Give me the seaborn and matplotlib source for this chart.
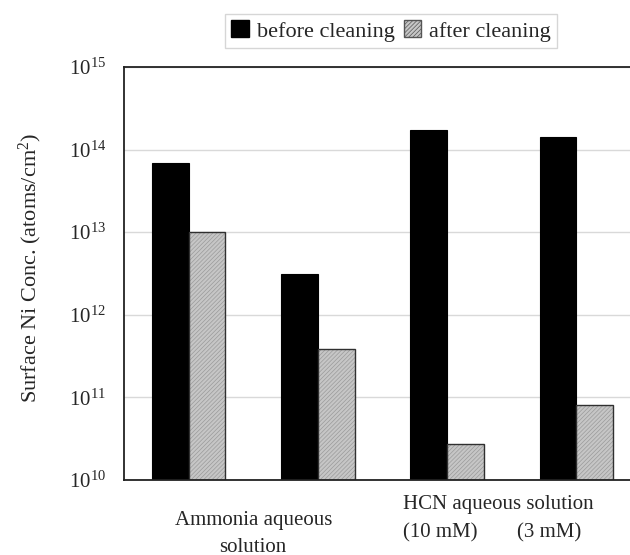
import matplotlib
matplotlib.use("Agg")
import matplotlib.pyplot as plt
import seaborn as sns
import pandas as pd
from matplotlib.patches import Patch, Rectangle
from matplotlib.ticker import FixedLocator, NullFormatter

sns.set_style("white")
plt.rcParams['font.family'] = ['Liberation Serif', 'DejaVu Serif']
plt.rcParams['mathtext.fontset'] = 'custom'
plt.rcParams['mathtext.rm'] = 'Liberation Serif'
plt.rcParams['mathtext.it'] = 'Liberation Serif:italic'
plt.rcParams['hatch.linewidth'] = 0.5

# Data
groups = ["NH3 A", "NH3 B", "HCN 10 mM", "HCN 3 mM"]
before_cleaning = [6.9e13, 3.1e12, 1.75e14, 1.42e14]
after_cleaning = [1.0e13, 3.9e11, 2.7e10, 8.0e10]
series = ["before cleaning", "after cleaning"]
ytick_values = [1e10, 1e11, 1e12, 1e13, 1e14, 1e15]

df = pd.DataFrame({
    "group": groups * 2,
    "state": [series[0]] * 4 + [series[1]] * 4,
    "value": before_cleaning + after_cleaning,
})

GRAY = '#c6c6c6'
HATCH_C = '#9a9a9a'
EDGE = '#303030'

W, H = 630, 555
fig = plt.figure(figsize=(W / 100, H / 100), dpi=100)
ax = fig.add_axes([124 / W, 1 - 480 / H, (641 - 124) / W, (480 - 67) / H])
ax.set_yscale('log')

sns.barplot(data=df, x="group", y="value", hue="state", order=groups,
            hue_order=series, palette={series[0]: "black", series[1]: GRAY},
            width=0.57, gap=0, ax=ax, legend=False, saturation=1,
            edgecolor="black", linewidth=0.8)

for bar in list(ax.containers[1]):
    bar.set_hatch('////////')
    bar.set_edgecolor(HATCH_C)
    bar.set_linewidth(0)
    # dark outline drawn on top of the hatched patch, using the patch's own geometry
    outline = Rectangle(bar.get_xy(), bar.get_width(), bar.get_height(),
                        fill=False, edgecolor=EDGE, linewidth=1.0, zorder=bar.get_zorder() + 0.1)
    ax.add_patch(outline)

ax.set_ylim(1e10, 1e15)
ax.set_xlim(-0.5, 3.5)
ax.yaxis.set_major_locator(FixedLocator(ytick_values))
ax.yaxis.set_minor_locator(FixedLocator([]))
ax.grid(axis='y', color='#d9d9d9', linewidth=1.0)
ax.grid(axis='x', visible=False)
ax.set_axisbelow(True)
ax.tick_params(axis='y', length=0, pad=13, labelsize=15)
ax.set_xticks([])
ax.xaxis.set_minor_locator(FixedLocator([0.5, 1.5, 2.5]))
ax.xaxis.set_minor_formatter(NullFormatter())
ax.tick_params(axis='x', which='minor', direction='in', length=4, color='#b0b0b0', width=0.8)
ax.set_xlabel("")
ax.set_ylabel("")

for side in ['left', 'bottom', 'top', 'right']:
    ax.spines[side].set_visible(True)
    ax.spines[side].set_color('#222222')
    ax.spines[side].set_linewidth(1.3)

fig.text(30 / W, 1 - 268 / H, "Surface Ni Conc. (atoms/cm$^2$)", rotation=90,
         ha='center', va='center', fontsize=16)

trans = matplotlib.transforms.blended_transform_factory(ax.transData, fig.transFigure)
ax.text(0.5, 1 - 520 / H, "Ammonia aqueous", transform=trans, ha='center', va='center', fontsize=15)
ax.text(0.5, 1 - 547 / H, "solution", transform=trans, ha='center', va='center', fontsize=15)
fig.text(403 / W, 1 - 505 / H, "HCN aqueous solution", ha='left', va='center', fontsize=15)
fig.text(403 / W, 1 - 533 / H, "(10 mM)", ha='left', va='center', fontsize=15)
fig.text(517 / W, 1 - 533 / H, "(3 mM)", ha='left', va='center', fontsize=15)

handles = [Patch(facecolor='black', edgecolor='black', label=series[0]),
           Patch(facecolor=GRAY, edgecolor='#555555', hatch='////////', label=series[1])]
leg = fig.legend(handles=handles, loc='center', bbox_to_anchor=(391 / W, 1 - 31 / H),
                 ncol=2, fontsize=16, frameon=True, fancybox=False, handlelength=0.8,
                 handleheight=0.8, handletextpad=0.35, columnspacing=0.4,
                 borderpad=0.3, borderaxespad=0)
leg.get_frame().set_edgecolor('#cccccc')
leg.get_frame().set_linewidth(1.0)

fig.savefig("out.png", dpi=100)
